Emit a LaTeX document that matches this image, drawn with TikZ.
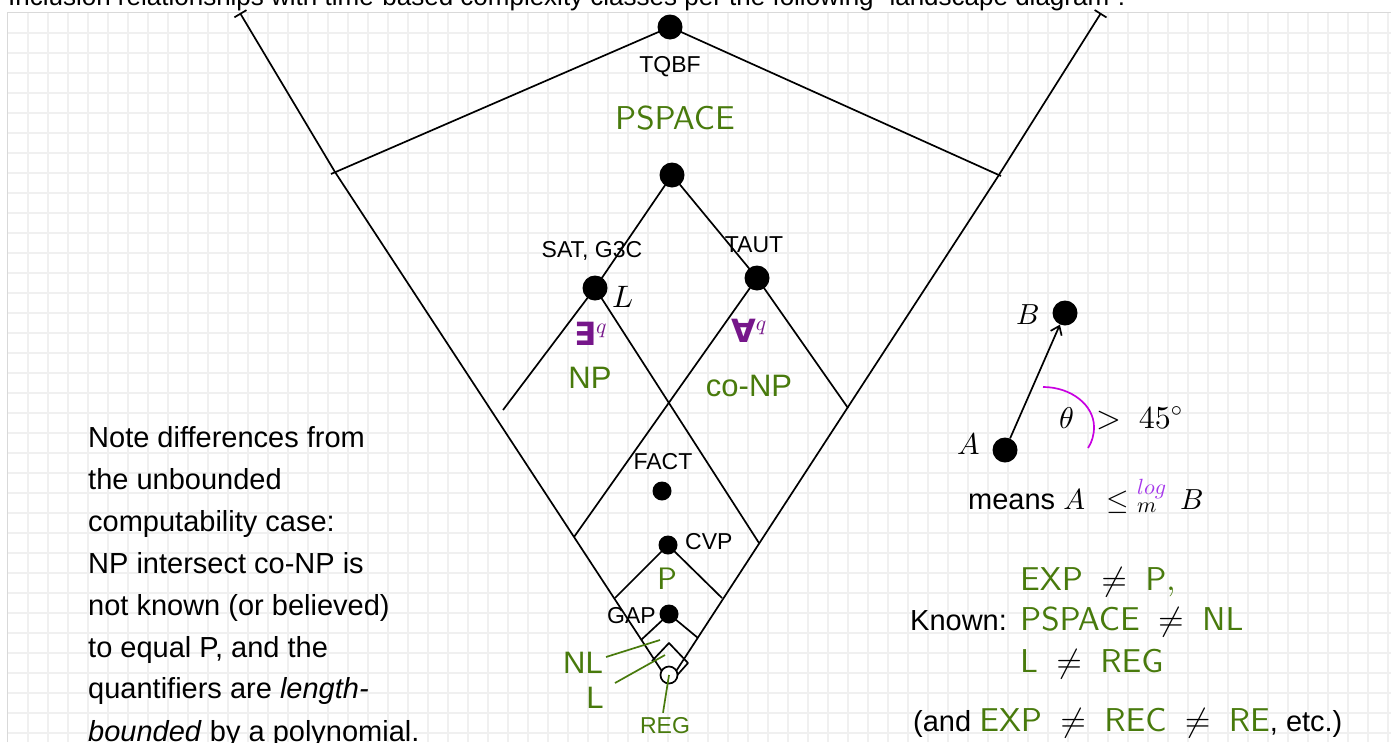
\RequirePackage{fix-cm}
\documentclass[tikz,border=0pt]{standalone}
\usepackage{amsmath}
\usepackage[no-math]{fontspec}
\setmainfont{Liberation Sans}
\newfontfamily\djv{DejaVu Sans}
\usetikzlibrary{arrows.meta}
% Computer Modern at its 10pt design size, scaled to any size
\DeclareFontFamily{OT1}{cmssx}{}
\DeclareFontShape{OT1}{cmssx}{m}{n}{<->cmss10}{}
\DeclareMathAlphabet{\mathsfx}{OT1}{cmssx}{m}{n}
\DeclareFontShape{OML}{cmm}{m}{it}{<->cmmi10}{}
\DeclareFontShape{OT1}{cmr}{m}{n}{<->cmr10}{}
\DeclareFontShape{OMS}{cmsy}{m}{n}{<->cmsy10}{}
\definecolor{clsgreen}{RGB}{72,122,12}
\definecolor{qpurple}{RGB}{118,22,138}
\definecolor{arcmag}{RGB}{200,0,225}
\definecolor{logpurple}{RGB}{165,55,235}
\definecolor{gridgray}{RGB}{240,240,240}
\newcommand\fsz[1]{\fontsize{#1}{#1}\selectfont}
\newcommand\clsf[1]{\textcolor{clsgreen}{\fontencoding{OT1}\fontfamily{cmssx}\selectfont #1}}
\newcommand\clsa[1]{\textcolor{clsgreen}{#1}}
\newcommand\mcl[1]{\textcolor{clsgreen}{\mathsfx{#1}}}
\newcommand\scr[1]{\text{\fsz{22}$#1$}}
\begin{document}
\begin{tikzpicture}[x=1pt,y=-1pt,
  wire/.style={line width=1.7pt,line join=round},
  bigdot/.style={circle,fill=black,inner sep=0pt,minimum size=25pt},
  smalldot/.style={circle,fill=black,inner sep=0pt,minimum size=19pt},
  lbl/.style={inner sep=0pt,font=\fsz{23}},
  txt/.style={inner sep=0pt,font=\fsz{29}},
  leader/.style={draw=clsgreen,line width=1.7pt}]
\useasboundingbox (0,0) rectangle (1391,742);
\clip (0,0) rectangle (1391,742);

% squared paper panel
\foreach \gx in {28,48,...,1388} \draw[gridgray,line width=1.4pt] (\gx,12) -- (\gx,742);
\foreach \gy in {33,53,...,733} \draw[gridgray,line width=1.4pt] (7,\gy) -- (1391,\gy);
\draw[gray!30,line width=1pt] (7,742) -- (7,12) -- (1391,12);

% heading line above the panel
\node[anchor=base west,inner sep=0pt,font=\fsz{26}] (head) at (8,5)
  {Inclusion relationships with time-based complexity classes per the following "landscape diagram":};

% key points of the landscape
\coordinate (vtl) at (240,13);
\coordinate (vl) at (335,172);
\coordinate (vb) at (669,682);
\coordinate (vr) at (997,178);
\coordinate (vtr) at (1101,13);
\coordinate (roofl) at (331,174);
\coordinate (roofr) at (1001,176);
\coordinate (npl) at (503,410);
\coordinate (conpr) at (848,408);
\coordinate (satend) at (759,543);
\coordinate (tautend) at (574,537);
\coordinate (pl) at (615,598);
\coordinate (pr) at (722,598);
\coordinate (nll) at (641,640);
\coordinate (nlr) at (698,638);
\coordinate (ll) at (652,661);
\coordinate (ltop) at (669,643);
\coordinate (lr) at (688,663);
\coordinate (lb) at (672,681);

% complete problems
\node[bigdot] (tqbf) at (670,27) {};
\node[bigdot] (ps) at (672,175) {};
\node[bigdot] (sat) at (595,288) {};
\node[bigdot] (taut) at (757,278) {};
\node[smalldot] (fact) at (662,491) {};
\node[smalldot] (cvp) at (668,545) {};
\node[smalldot] (gap) at (669,614) {};

% class boundaries
\draw[wire,{Bar[width=14pt]}-{Bar[width=14pt]}] (vtl) -- (vl) -- (vb) -- (vr) -- (vtr);
\draw[wire] (roofl) -- (tqbf.center) -- (roofr);
\draw[wire] (npl) -- (sat.center) -- (ps.center) -- (taut.center) -- (conpr);
\draw[wire] (sat.center) -- (satend);
\draw[wire] (taut.center) -- (tautend);
\draw[wire] (pl) -- (cvp.center) -- (pr);
\draw[wire] (nll) -- (gap.center) -- (nlr);
\draw[wire] (ll) -- (ltop) -- (lr) -- (lb);
\node[circle,draw,fill=white,line width=1.7pt,inner sep=0pt,minimum size=17pt] (reg) at (669,675) {};

% problem labels
\node[lbl,anchor=base] (tqbfl) at (670,72) {TQBF};
\node[lbl,anchor=base] (satl) at (592,257) {SAT, G3C};
\node[lbl,anchor=base] (tautl) at (754,252) {TAUT};
\node[lbl,anchor=base] (factl) at (663,469) {FACT};
\node[lbl,anchor=base west] (cvpl) at (685,549) {CVP};
\node[lbl,anchor=base east] (gapl) at (656,623) {GAP};
\node[inner sep=0pt,anchor=base west,font=\fsz{31}] (lang) at (612,307) {$L$};

% quantifiers
\node[inner sep=0pt,anchor=base west,font=\fsz{31},text=qpurple] (exq) at (574,345) {{\djv\bfseries\fsz{32}∃}$^{q}$};
\node[inner sep=0pt,anchor=base west,font=\fsz{31},text=qpurple] (faq) at (731,342) {{\djv\bfseries\fsz{32}∀}$^{q}$};

% class names
\node[inner sep=0pt,anchor=base,font=\fsz{33}] (pspace) at (675,129) {\clsf{PSPACE}};
\node[inner sep=0pt,anchor=base,font=\fsz{31}] (np) at (590,388) {\clsa{NP}};
\node[inner sep=0pt,anchor=base,font=\fsz{31}] (conp) at (749,396) {\clsa{co-NP}};
\node[inner sep=0pt,anchor=base,font=\fsz{31}] (pcl) at (667,589) {\clsf{P}};
\node[inner sep=0pt,anchor=base,font=\fsz{31}] (nl) at (583,673) {\clsa{NL}};
\node[inner sep=0pt,anchor=base,font=\fsz{31}] (lcl) at (595,708) {\clsa{L}};
\node[inner sep=0pt,anchor=base,font=\fsz{23}] (regl) at (665,733) {\clsa{REG}};
\coordinate (nltip) at (660,640);
\coordinate (ltip) at (665,655);
\draw[leader] (606,657) -- (nltip);
\draw[leader] (615,683) -- (ltip);
\draw[leader] (regl.north) ++(-2,-4) -- (reg.center);

% left note
\node[txt,anchor=base west] (n1) at (88,447) {Note differences from};
\node[txt,anchor=base west] (n2) at (88,489) {the unbounded};
\node[txt,anchor=base west] (n3) at (88,531) {computability case:};
\node[txt,anchor=base west] (n4) at (88,573) {NP intersect co-NP is};
\node[txt,anchor=base west] (n5) at (88,615) {not known (or believed)};
\node[txt,anchor=base west] (n6) at (88,657) {to equal P, and the};
\node[txt,anchor=base west] (n7) at (88,698) {quantifiers are \textit{length-}};
\node[txt,anchor=base west] (n8) at (88,741) {\textit{bounded} by a polynomial.};

% legend for reductions
\node[bigdot] (adot) at (1005,450) {};
\node[bigdot] (bdot) at (1065,313) {};
\draw[line width=1.7pt,-{Straight Barb[length=8pt,width=12pt]}] (adot) -- (bdot);
\node[inner sep=0pt,anchor=base west,font=\fsz{30}] (al) at (957,454) {$A$};
\node[inner sep=0pt,anchor=base west,font=\fsz{29}] (bl) at (1016,324) {$B$};
\draw[arcmag,line width=1.7pt] (1043,387) .. controls (1071,387) and (1094,405) .. (1094,427)
  .. controls (1094,435) and (1092,442) .. (1088,448);
\node[inner sep=0pt,anchor=base west,font=\fsz{30}] (theta) at (1059,428) {$\theta$};
\node[inner sep=0pt,anchor=base west,font=\fsz{32}] (gt) at (1096,428) {$>\ 45^{\circ}$};
\node[inner sep=0pt,anchor=base west,font=\fsz{29}] (means) at (968,509)
  {means $\fsz{31}A\ \,\le{}^{\textcolor{logpurple}{\scr{log}}}_{\scr{m}}\ \,B$};

% known separations
\node[txt,anchor=base west] (known) at (910,630) {Known:};
\node[inner sep=0pt,anchor=base west,font=\fsz{33}] (k1) at (1020,590) {$\mcl{EXP}\ \ne\ \mcl{P,}$};
\node[inner sep=0pt,anchor=base west,font=\fsz{33}] (k2) at (1020,630) {$\mcl{PSPACE}\ \ne\ \mcl{NL}$};
\node[inner sep=0pt,anchor=base west,font=\fsz{33}] (k3) at (1020,672) {$\mcl{L}\ \ne\ \mcl{REG}$};
\node[txt,anchor=base west] (k4) at (913,731)
  {(and {\fsz{33}$\mcl{EXP}\ \ne\ \mcl{REC}\ \ne\ \mcl{RE}$}, etc.)};
\end{tikzpicture}
\end{document}
